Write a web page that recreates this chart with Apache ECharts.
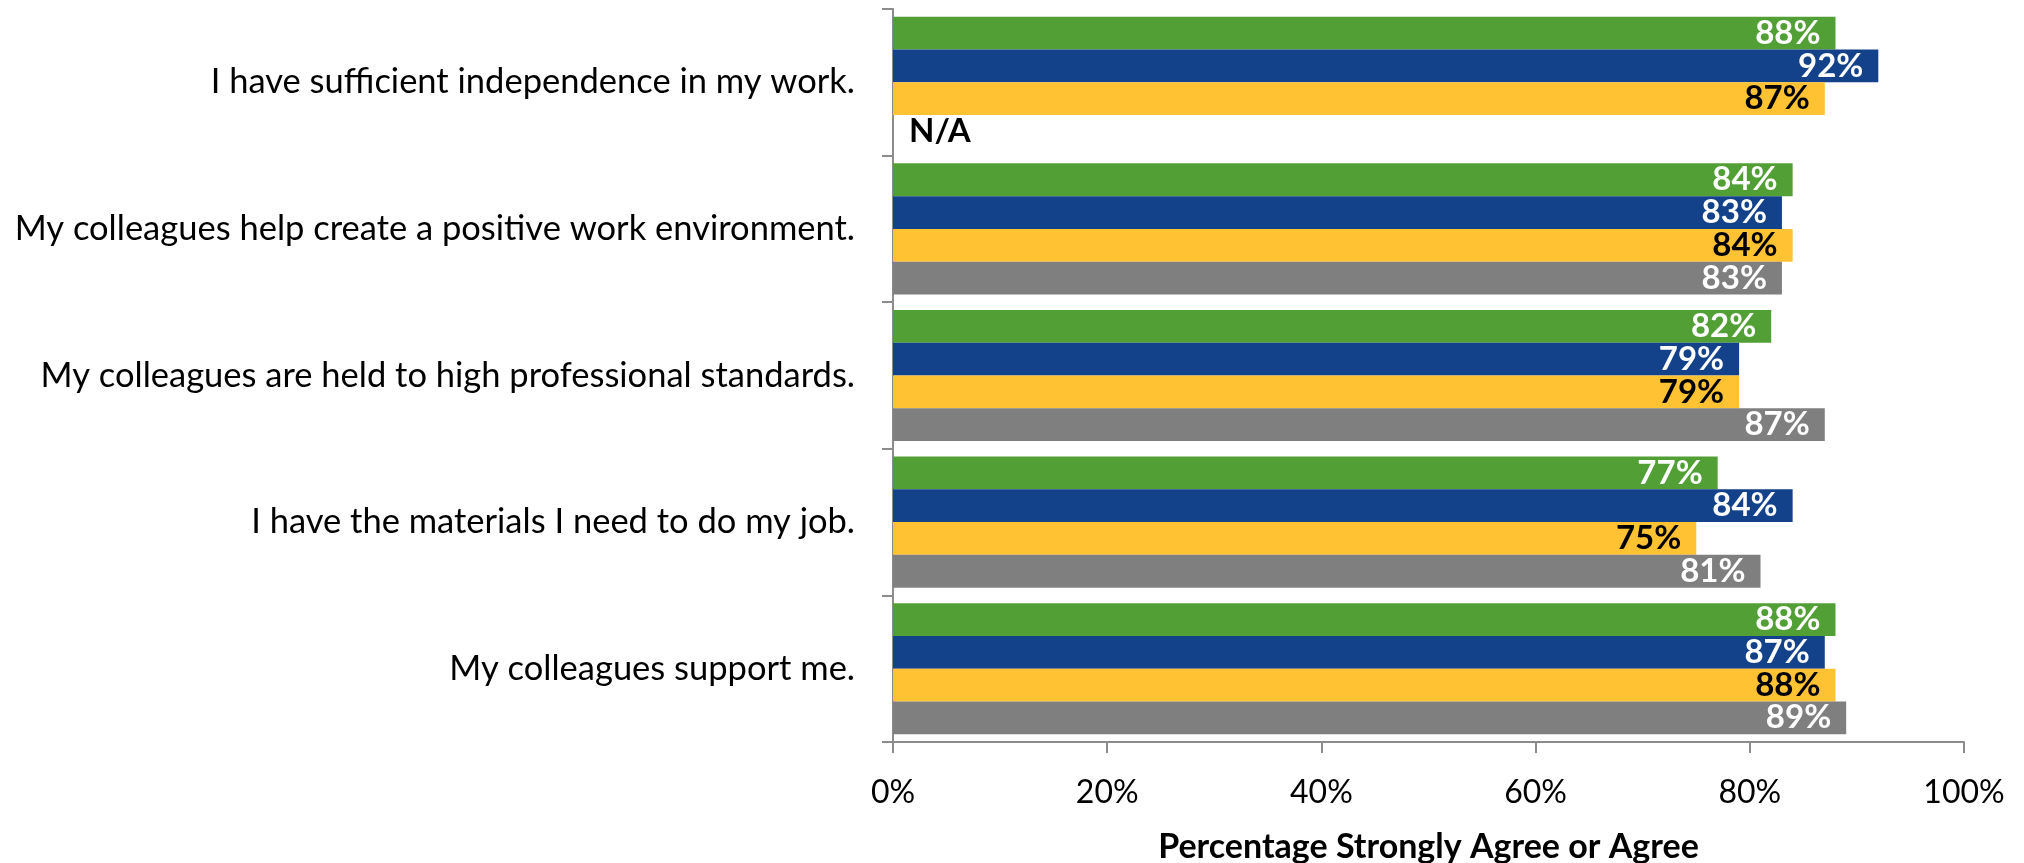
<!DOCTYPE html>
<html>
<head>
<meta charset="utf-8">
<script src="https://cdn.jsdelivr.net/npm/echarts@6/dist/echarts.min.js"></script>
<style>
  html, body { margin: 0; padding: 0; background: #ffffff; }
  #chart { width: 2024px; height: 863px; }
</style>
</head>
<body>
<div id="chart"></div>
<script>
// Survey statements, top to bottom
const categories = [
  'I have sufficient independence in my work.',
  'My colleagues help create a positive work environment.',
  'My colleagues are held to high professional standards.',
  'I have the materials I need to do my job.',
  'My colleagues support me.'
];

// Percent strongly agree / agree for each group (null = not asked)
const greenValues  = [88, 84, 82, 77, 88];
const blueValues   = [92, 83, 79, 84, 87];
const yellowValues = [87, 84, 79, 75, 88];
const grayValues   = [null, 83, 87, 81, 89];

const xTicks = [0, 20, 40, 60, 80, 100];
const axisTitle = 'Percentage Strongly Agree or Agree';

const FONT = 'Lato, "Open Sans", sans-serif';
const AXIS_COLOR = '#8c8c8c';

function valueLabel(color) {
  return {
    show: true,
    position: 'insideRight',
    distance: 15,
    formatter: p => p.value + '%',
    color: color,
    fontFamily: FONT,
    fontWeight: 'bold',
    fontSize: 33
  };
}

function barSeries(name, values, fill, labelColor) {
  return {
    name: name,
    type: 'bar',
    barGap: '0%',
    barCategoryGap: '10.6%',
    itemStyle: { color: fill },
    label: valueLabel(labelColor),
    data: values.map(v => v === null
      ? { value: 0, label: { show: true, position: 'right', distance: 16, color: '#000000', formatter: 'N/A' } }
      : v)
  };
}

const chart = echarts.init(document.getElementById('chart'), null, { renderer: 'canvas' });

chart.setOption({
  animation: false,
  backgroundColor: '#ffffff',
  grid: { left: 893, right: 60, top: 9, bottom: 121, containLabel: false, outerBoundsMode: 'none' },
  xAxis: {
    type: 'value',
    min: xTicks[0],
    max: xTicks[xTicks.length - 1],
    interval: xTicks[1] - xTicks[0],
    name: axisTitle,
    nameLocation: 'middle',
    nameGap: 88,
    nameMoveOverlap: false,
    nameTextStyle: { fontFamily: FONT, fontWeight: 'bold', fontSize: 34, color: '#000000' },
    axisLine: { show: true, lineStyle: { color: AXIS_COLOR, width: 2 } },
    axisTick: { show: true, length: 11, lineStyle: { color: AXIS_COLOR, width: 2 } },
    splitLine: { show: false },
    axisLabel: {
      formatter: v => v + '%',
      margin: 35,
      fontFamily: FONT,
      fontSize: 32,
      color: '#000000'
    }
  },
  yAxis: {
    type: 'category',
    inverse: true,
    data: categories,
    axisLine: { show: true, lineStyle: { color: AXIS_COLOR, width: 2 } },
    axisTick: { show: true, length: 11, lineStyle: { color: AXIS_COLOR, width: 2 } },
    axisLabel: {
      margin: 38,
      fontFamily: FONT,
      fontSize: 34.5,
      color: '#000000'
    }
  },
  series: [
    barSeries('Green', greenValues, '#52a035', '#ffffff'),
    barSeries('Blue', blueValues, '#13418a', '#ffffff'),
    barSeries('Yellow', yellowValues, '#ffc232', '#000000'),
    barSeries('Gray', grayValues, '#7f7f7f', '#ffffff')
  ]
});
</script>
</body>
</html>
